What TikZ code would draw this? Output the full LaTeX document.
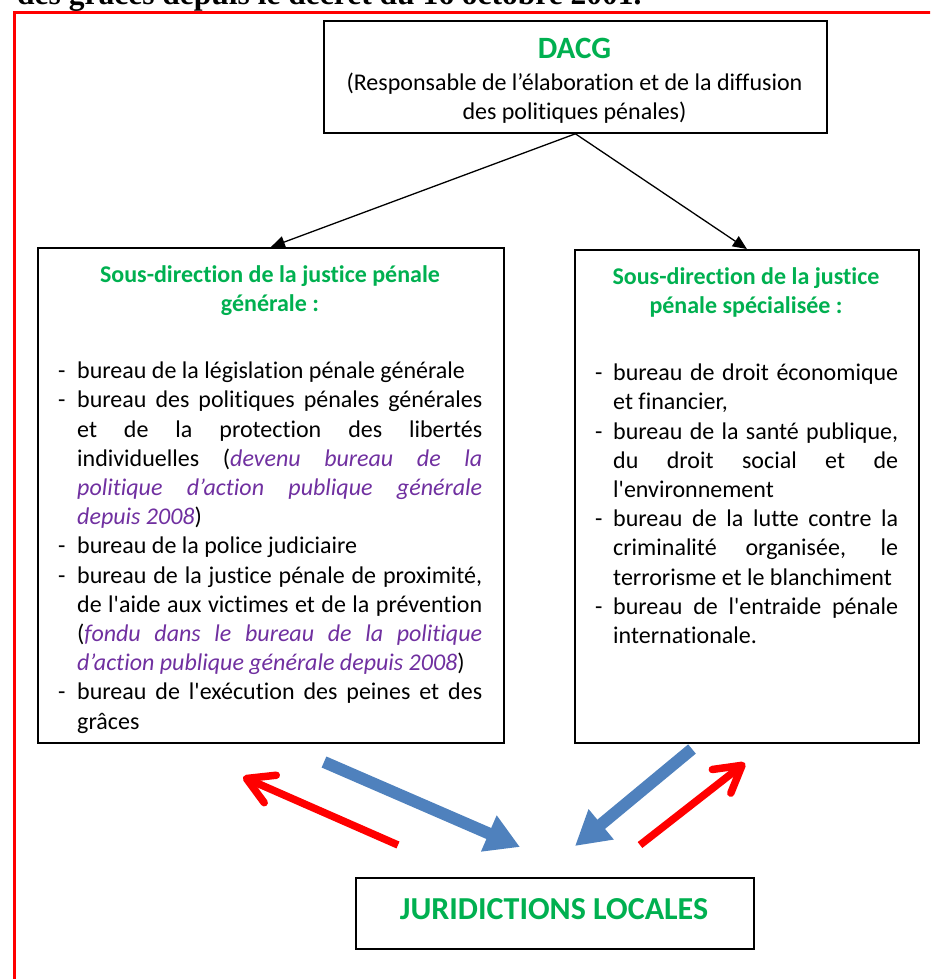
\documentclass[tikz,border=0pt]{standalone}
\usepackage{fontspec}
\usetikzlibrary{arrows.meta}
\newfontfamily\calib{Carlito}[RawFeature={-liga;-clig;-calt;-dlig}]
\newfontfamily\timesfam{Liberation Serif}
\definecolor{wgreen}{HTML}{00B050}
\definecolor{wpurple}{HTML}{7030A0}
\definecolor{wblue}{HTML}{4F81BD}
\definecolor{wred}{HTML}{FF0000}
\newcommand{\itmL}{\par\hangindent=19pt\hangafter=1\noindent\makebox[19pt][l]{-}}
\newcommand{\itmR}{\par\hangindent=18pt\hangafter=1\noindent\makebox[18pt][l]{-}}
\newcommand{\pu}[1]{\textcolor{wpurple}{\itshape #1}}
\newcommand{\nohyph}{\hyphenpenalty=10000\exhyphenpenalty=10000\tolerance=9999\hbadness=10000\relax}
\begin{document}
\begin{tikzpicture}[x=1pt,y=-1pt,
  box/.style={draw=black, line width=1.8pt, inner sep=0pt, anchor=north west},
  body/.style={font=\calib\fontsize{24}{29.2}\selectfont, inner sep=0pt},
  head/.style={font=\calib\bfseries\fontsize{24}{29.2}\selectfont, text=wgreen, inner sep=0pt, align=center, anchor=north},
  conn/.style={draw=black, line width=1.3pt, -{Triangle[length=14pt,width=12pt]}},
  bluearr/.style={draw=wblue, line width=12pt, -{Triangle[length=34pt,width=37pt]}},
  redarr/.style={draw=wred, line width=7.5pt, -{Straight Barb[length=26pt,width=30pt,round]}}
]
\useasboundingbox (0,0) rectangle (930,979);
\clip (0,0) rectangle (930,979);

% cut-off caption text at top
\node[anchor=base west, inner sep=0pt, font=\timesfam\bfseries\fontsize{31.5}{34}\selectfont] (cap) at (17,5) {des grâces depuis le décret du 16 octobre 2001.};

% red frame
\draw[wred, line width=3.8pt] (14.5,995) -- (14.5,12.5) -- (945,12.5);

% boxes
\node[box, minimum width=503pt, minimum height=112pt] (dacg) at (323,20) {};
\node[box, minimum width=466pt, minimum height=495pt] (left) at (37,247) {};
\node[box, minimum width=344pt, minimum height=493pt] (right) at (574,249) {};
\node[box, minimum width=398pt, minimum height=71pt] (jur) at (355,877) {};

% DACG text
\node[anchor=base, inner sep=0pt, font=\calib\bfseries\fontsize{31}{34}\selectfont, text=wgreen] (dacgt) at (574.5,59) {DACG};
\node[body, anchor=north, align=center] (dacgs) at (574.5,69.5) {\strut(Responsable de l’élaboration et de la diffusion\\des politiques pénales)};

% headings
\node[head] (lh) at (270,261.5) {\strut Sous-direction de la justice pénale\\générale~:};
\node[head] (rh) at (746,263.5) {\strut Sous-direction de la justice\\pénale spécialisée~:};

% left list
\node[body, anchor=north west, text width=424pt, align=justify] (llist) at (58,349.2) {\nohyph%
\itmL\strut bureau de la législation pénale générale
\itmL bureau~des~politiques~pénales~générales \linebreak et de la protection des libertés \linebreak individuelles (\pu{devenu bureau de la \linebreak politique d’action publique générale \linebreak depuis 2008})
\itmL bureau de la police judiciaire
\itmL bureau~de~la~justice~pénale~de~proximité, \linebreak de~l'aide~aux~victimes~et~de~la~prévention \linebreak (\pu{fondu dans le bureau de la politique \linebreak d’action~publique~générale~depuis~2008})
\itmL bureau de l'exécution des peines et des \linebreak grâces\par};

% right list
\node[body, anchor=north west, text width=303pt, align=justify] (rlist) at (595,351.2) {\nohyph%
\itmR\strut bureau~de~droit~économique \linebreak et financier,
\itmR bureau~de~la~santé~publique, \linebreak du droit social et de \linebreak l'environnement
\itmR bureau~de~la~lutte~contre~la \linebreak criminalité organisée, le \linebreak terrorisme~et~le~blanchiment
\itmR bureau de l'entraide pénale \linebreak internationale.\par};

% bottom text
\node[anchor=base, inner sep=0pt, font=\calib\bfseries\fontsize{32}{36}\selectfont, text=wgreen] (jurt) at (554,919) {JURIDICTIONS LOCALES};

% connectors from DACG
\draw[conn] (dacg.south) -- (left.north);
\draw[conn] (dacg.south) -- (right.north);

% blue and red arrows
\coordinate (b1s) at (324,762);
\coordinate (b1e) at (520,847);
\coordinate (b2s) at (692,749);
\coordinate (b2e) at (575,846);
\coordinate (r1s) at (398,845);
\coordinate (r1e) at (243,777);
\coordinate (r2s) at (640,845);
\coordinate (r2e) at (745,763);
\draw[bluearr] (b1s) -- (b1e);
\draw[bluearr] (b2s) -- (b2e);
\draw[redarr] (r1s) -- (r1e);
\draw[redarr] (r2s) -- (r2e);
\end{tikzpicture}
\end{document}
